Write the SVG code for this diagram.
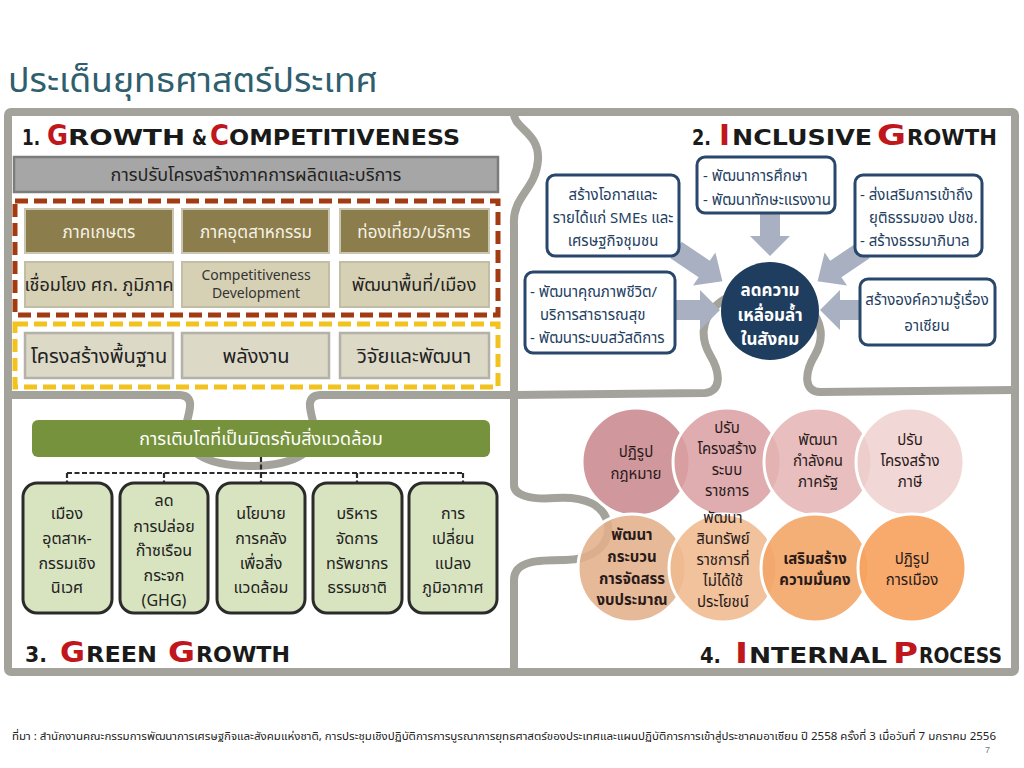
<svg xmlns="http://www.w3.org/2000/svg" xmlns:xlink="http://www.w3.org/1999/xlink" width="1024" height="768" viewBox="0 0 1024 768">
<defs>
<style>
.th{font-family:"Noto Sans Thai","Noto Sans","DejaVu Sans",sans-serif;}
.hd{font-family:"DejaVu Sans","Liberation Sans",sans-serif;font-weight:bold;fill:#1a1a1a;}
.red{fill:#c0171c;}
.frame{fill:none;stroke:#a3a29b;stroke-width:8;stroke-linecap:round;stroke-linejoin:round;}
.olive{fill:#8b7d4c;stroke:#c9c5b0;stroke-width:2;}
.khaki{fill:#d6d1b4;stroke:#c2bea6;stroke-width:2;}
.light{fill:#dcd9c7;stroke:#b3b1a8;stroke-width:2.5;}
.t18w{font-size:17px;fill:#f6f2e4;text-anchor:middle;}
.t18d{font-size:18px;fill:#222;text-anchor:middle;}
.t20d{font-size:20px;fill:#222;text-anchor:middle;}
.nbox{fill:#fff;stroke:#29476a;stroke-width:3;}
.nt{font-size:15px;fill:#24405f;}
.gbox{fill:#d8e4bf;stroke:#2b2b2b;stroke-width:3;}
.gt{font-size:16px;fill:#222;text-anchor:middle;}
.ct{font-size:15px;fill:#2a1a1a;text-anchor:middle;}
.ctb{font-size:15px;fill:#2a1a1a;text-anchor:middle;font-weight:bold;}
.circ{stroke:#fff;stroke-width:3;}
.barrow{fill:#a8b0c1;}
.dash{fill:none;stroke:#2b2b2b;stroke-width:2.2;stroke-dasharray:5 2.5;}
</style>
<path id="ar48" d="M0,-10 H28 V-20 L48,0 L28,20 V10 H0 Z"/>
<path id="ar56" d="M0,-10 H34 V-20 L56,0 L34,20 V10 H0 Z"/>
</defs>

<rect x="0" y="0" width="1024" height="768" fill="#fff"/>

<!-- title -->
<text x="8" y="92" class="th" font-size="34" fill="#2f5f6f" textLength="370" lengthAdjust="spacingAndGlyphs">ประเด็นยุทธศาสตร์ประเทศ</text>

<!-- puzzle frame background -->
<g id="frame">
<rect x="8" y="112" width="1007" height="560" rx="3" class="frame" stroke-width="9"/>
<path class="frame" d="M514,112 C512,128 540,132 538,160 C536,190 512,196 514,225 L514,395"/>
<path class="frame" d="M8,395 L180,395 C195,396 190,410 186,425 C180,450 205,466 250,466 C295,466 322,450 314,425 C310,410 305,396 320,395 L514,395"/>
<path class="frame" d="M514,395 L705,393 C720,392 722,375 710,355 C690,320 720,290 760,290 C800,290 835,320 815,355 C803,375 805,392 820,392 L1015,390"/>
<path class="frame" d="M514,395 L514,485 C514,495 530,500 555,498 C585,496 605,505 608,525 C610,548 590,560 565,560 C540,560 514,560 514,580 L514,672"/>
</g>

<!-- Quadrant 1 -->
<g id="q1-heading">
<text y="145" class="hd"><tspan x="22" font-size="21" textLength="18" lengthAdjust="spacingAndGlyphs">1.</tspan> <tspan x="47" font-size="29" class="red" textLength="21" lengthAdjust="spacingAndGlyphs">G</tspan><tspan x="68" font-size="21" textLength="117" lengthAdjust="spacingAndGlyphs">ROWTH</tspan> <tspan x="192" font-size="21" textLength="15" lengthAdjust="spacingAndGlyphs">&amp;</tspan> <tspan x="210" font-size="29" class="red" textLength="19" lengthAdjust="spacingAndGlyphs">C</tspan><tspan x="229" font-size="21" textLength="231" lengthAdjust="spacingAndGlyphs">OMPETITIVENESS</tspan></text>
</g>

<g id="q1-bar">
<rect x="14" y="157" width="484" height="35" fill="#a6a6a6" stroke="#7c7c7c" stroke-width="2.5"/>
<text x="256" y="181" class="th t18d">การปรับโครงสร้างภาคการผลิตและบริการ</text>
</g>

<g id="q1-group-red">
<rect x="15" y="201" width="483" height="114" fill="none" stroke="#a23a12" stroke-width="5" stroke-dasharray="13 6"/>
</g>
<g id="q1-group-yellow">
<rect x="15" y="324" width="483" height="63" fill="none" stroke="#f2c21e" stroke-width="5" stroke-dasharray="13 6"/>
</g>

<g id="n-agri"><rect x="25" y="209" width="148" height="44" class="olive"/><text x="99" y="238" class="th t18w">ภาคเกษตร</text></g>
<g id="n-industry"><rect x="182" y="209" width="147" height="44" class="olive"/><text x="256" y="238" class="th t18w">ภาคอุตสาหกรรม</text></g>
<g id="n-tourism"><rect x="340" y="209" width="149" height="44" class="olive"/><text x="414" y="238" class="th t18w">ท่องเที่ยว/บริการ</text></g>

<g id="n-regional"><rect x="25" y="262" width="148" height="45" class="khaki"/><text x="99" y="291" class="th t18d" font-size="15.5">เชื่อมโยง ศก. ภูมิภาค</text></g>
<g id="n-compdev"><rect x="182" y="262" width="147" height="45" class="khaki"/><text x="256" y="280" font-family="Noto Sans, DejaVu Sans, sans-serif" font-size="14" fill="#333" text-anchor="middle"><tspan x="256">Competitiveness</tspan><tspan x="256" dy="18">Development</tspan></text></g>
<g id="n-area"><rect x="340" y="262" width="149" height="45" class="khaki"/><text x="414" y="291" class="th t18d" font-size="17">พัฒนาพื้นที่/เมือง</text></g>

<g id="n-infra"><rect x="25" y="333" width="148" height="45" class="light"/><text x="99" y="363" class="th t20d" font-size="19">โครงสร้างพื้นฐาน</text></g>
<g id="n-energy"><rect x="182" y="333" width="147" height="45" class="light"/><text x="256" y="363" class="th t20d">พลังงาน</text></g>
<g id="n-rnd"><rect x="340" y="333" width="149" height="45" class="light"/><text x="414" y="363" class="th t20d">วิจัยและพัฒนา</text></g>

<!-- Quadrant 2 -->
<g id="q2-heading">
<text y="145" class="hd"><tspan x="692" font-size="21" textLength="19" lengthAdjust="spacingAndGlyphs">2.</tspan> <tspan x="719" font-size="29" class="red" textLength="11" lengthAdjust="spacingAndGlyphs">I</tspan><tspan x="732" font-size="21" textLength="140" lengthAdjust="spacingAndGlyphs">NCLUSIVE</tspan> <tspan x="877" font-size="29" class="red" textLength="29" lengthAdjust="spacingAndGlyphs">G</tspan><tspan x="907" font-size="21" textLength="90" lengthAdjust="spacingAndGlyphs">ROWTH</tspan></text>
</g>

<g id="connectors">
<use xlink:href="#ar48" href="#ar48" class="barrow" transform="translate(770,208) rotate(90)"/>
<use xlink:href="#ar56" href="#ar56" class="barrow" transform="translate(676,250) rotate(34)"/>
<use xlink:href="#ar56" href="#ar56" class="barrow" transform="translate(864,250) rotate(146)"/>
<use xlink:href="#ar48" href="#ar48" class="barrow" transform="translate(672,310)"/>
<use xlink:href="#ar48" href="#ar48" class="barrow" transform="translate(868,310) rotate(180)"/>
<path class="dash" d="M261,457 V473 M67,473 H463 M67,473 V483 M164,473 V483 M261,473 V483 M357,473 V483 M463,473 V483"/>
</g>

<g id="n-sme"><rect x="547" y="175" width="132" height="81" rx="8" class="nbox"/><text class="th nt" text-anchor="middle"><tspan x="613" y="200">สร้างโอกาสและ</tspan><tspan x="613" y="223">รายได้แก่ SMEs และ</tspan><tspan x="613" y="246">เศรษฐกิจชุมชน</tspan></text></g>
<g id="n-edu"><rect x="697" y="157" width="138" height="56" rx="8" class="nbox"/><text class="th nt"><tspan x="703" y="181">- พัฒนาการศึกษา</tspan><tspan x="703" y="205">- พัฒนาทักษะแรงงาน</tspan></text></g>
<g id="n-justice"><rect x="855" y="175" width="127" height="81" rx="8" class="nbox"/><text class="th nt"><tspan x="860" y="200">- ส่งเสริมการเข้าถึง</tspan><tspan x="869" y="223">ยุติธรรมของ ปชช.</tspan><tspan x="860" y="246">- สร้างธรรมาภิบาล</tspan></text></g>
<g id="n-quality"><rect x="525" y="272" width="150" height="81" rx="8" class="nbox"/><text class="th nt"><tspan x="530" y="297">- พัฒนาคุณภาพชีวิต/</tspan><tspan x="540" y="320">บริการสาธารณสุข</tspan><tspan x="530" y="343">- พัฒนาระบบสวัสดิการ</tspan></text></g>
<g id="n-asean"><rect x="860" y="279" width="135" height="66" rx="8" class="nbox"/><text class="th nt" text-anchor="middle"><tspan x="927" y="305">สร้างองค์ความรู้เรื่อง</tspan><tspan x="927" y="331">อาเซียน</tspan></text></g>
<g id="n-center"><circle cx="770" cy="311" r="49" fill="#1f3d5e"/><text class="th" font-size="17" font-weight="bold" fill="#fff" text-anchor="middle"><tspan x="770" y="296">ลดความ</tspan><tspan x="770" y="321">เหลื่อมล้ำ</tspan><tspan x="770" y="345">ในสังคม</tspan></text></g>

<!-- Quadrant 3 -->
<g id="n-green"><rect x="32" y="420" width="458" height="37" rx="6" fill="#76923c"/><text x="261" y="445" class="th" font-size="18" fill="#fff" text-anchor="middle">การเติบโตที่เป็นมิตรกับสิ่งแวดล้อม</text></g>

<g id="n-eco"><rect x="23" y="483" width="89" height="130" rx="14" class="gbox"/><text class="th gt"><tspan x="67" y="519">เมือง</tspan><tspan x="67" y="544">อุตสาห-</tspan><tspan x="67" y="569">กรรมเชิง</tspan><tspan x="67" y="593">นิเวศ</tspan></text></g>
<g id="n-ghg"><rect x="120" y="483" width="88" height="130" rx="14" class="gbox"/><text class="th gt"><tspan x="164" y="506">ลด</tspan><tspan x="164" y="532">การปล่อย</tspan><tspan x="164" y="556">ก๊าซเรือน</tspan><tspan x="164" y="581">กระจก</tspan><tspan x="164" y="606">(GHG)</tspan></text></g>
<g id="n-fiscal"><rect x="217" y="483" width="88" height="130" rx="14" class="gbox"/><text class="th gt"><tspan x="261" y="519">นโยบาย</tspan><tspan x="261" y="544">การคลัง</tspan><tspan x="261" y="569">เพื่อสิ่ง</tspan><tspan x="261" y="593">แวดล้อม</tspan></text></g>
<g id="n-resource"><rect x="313" y="483" width="89" height="130" rx="14" class="gbox"/><text class="th gt"><tspan x="357" y="519">บริหาร</tspan><tspan x="357" y="544">จัดการ</tspan><tspan x="357" y="569">ทรัพยากร</tspan><tspan x="357" y="593">ธรรมชาติ</tspan></text></g>
<g id="n-climate"><rect x="409" y="483" width="88" height="130" rx="14" class="gbox"/><text class="th gt"><tspan x="453" y="519">การ</tspan><tspan x="453" y="544">เปลี่ยน</tspan><tspan x="453" y="569">แปลง</tspan><tspan x="453" y="593">ภูมิอากาศ</tspan></text></g>

<g id="q3-heading">
<text y="662" class="hd"><tspan x="25" font-size="21" textLength="22" lengthAdjust="spacingAndGlyphs">3.</tspan> <tspan x="60" font-size="29" class="red" textLength="25" lengthAdjust="spacingAndGlyphs">G</tspan><tspan x="86" font-size="21" textLength="71" lengthAdjust="spacingAndGlyphs">REEN</tspan> <tspan x="168" font-size="29" class="red" textLength="27" lengthAdjust="spacingAndGlyphs">G</tspan><tspan x="196" font-size="21" textLength="94" lengthAdjust="spacingAndGlyphs">ROWTH</tspan></text>
</g>

<!-- Quadrant 4 -->
<g id="n-law"><circle cx="636" cy="462" r="54" class="circ" fill="#c98a8e" fill-opacity="0.88"/><text class="th ct"><tspan x="636" y="457">ปฏิรูป</tspan><tspan x="636" y="479">กฎหมาย</tspan></text></g>
<g id="n-bureau"><circle cx="727" cy="462" r="54" class="circ" fill="#d99fa1" fill-opacity="0.85"/><text class="th ct"><tspan x="727" y="433">ปรับ</tspan><tspan x="727" y="454">โครงสร้าง</tspan><tspan x="727" y="475">ระบบ</tspan><tspan x="727" y="496">ราชการ</tspan></text></g>
<g id="n-staff"><circle cx="818" cy="462" r="54" class="circ" fill="#e4b4b3" fill-opacity="0.85"/><text class="th ct"><tspan x="818" y="445">พัฒนา</tspan><tspan x="818" y="466">กำลังคน</tspan><tspan x="818" y="487">ภาครัฐ</tspan></text></g>
<g id="n-tax"><circle cx="910" cy="462" r="54" class="circ" fill="#efd0cf" fill-opacity="0.85"/><text class="th ct"><tspan x="910" y="445">ปรับ</tspan><tspan x="910" y="466">โครงสร้าง</tspan><tspan x="910" y="487">ภาษี</tspan></text></g>

<g id="n-budget"><circle cx="632" cy="568" r="54" class="circ" fill="#e2b18b" fill-opacity="0.88"/><text class="th ctb"><tspan x="632" y="540">พัฒนา</tspan><tspan x="632" y="562">กระบวน</tspan><tspan x="632" y="584">การจัดสรร</tspan><tspan x="632" y="605">งบประมาณ</tspan></text></g>
<g id="n-asset"><circle cx="723" cy="568" r="54" class="circ" fill="#efba8e" fill-opacity="0.88"/><text class="th ct" fill="#4a3a30"><tspan x="723" y="523">พัฒนา</tspan><tspan x="723" y="544">สินทรัพย์</tspan><tspan x="723" y="565">ราชการที่</tspan><tspan x="723" y="586">ไม่ได้ใช้</tspan><tspan x="723" y="607">ประโยชน์</tspan></text></g>
<g id="n-security"><circle cx="815" cy="568" r="54" class="circ" fill="#f3a668" fill-opacity="0.9"/><text class="th ctb"><tspan x="815" y="564">เสริมสร้าง</tspan><tspan x="815" y="585">ความมั่นคง</tspan></text></g>
<g id="n-politics"><circle cx="912" cy="568" r="54" class="circ" fill="#f6a35e" fill-opacity="0.92"/><text class="th ct"><tspan x="912" y="564">ปฏิรูป</tspan><tspan x="912" y="585">การเมือง</tspan></text></g>

<g id="q4-heading">
<text y="663" class="hd"><tspan x="700" font-size="21" textLength="21" lengthAdjust="spacingAndGlyphs">4.</tspan> <tspan x="735" font-size="29" class="red" textLength="13" lengthAdjust="spacingAndGlyphs">I</tspan><tspan x="749" font-size="21" textLength="138" lengthAdjust="spacingAndGlyphs">NTERNAL</tspan> <tspan x="893" font-size="29" class="red" textLength="25" lengthAdjust="spacingAndGlyphs">P</tspan><tspan x="919" font-size="21" textLength="83" lengthAdjust="spacingAndGlyphs">ROCESS</tspan></text>
</g>

<!-- footer -->
<text x="12" y="740" class="th" font-size="11" fill="#222" textLength="984" lengthAdjust="spacingAndGlyphs">ที่มา : สำนักงานคณะกรรมการพัฒนาการเศรษฐกิจและสังคมแห่งชาติ, การประชุมเชิงปฏิบัติการการบูรณาการยุทธศาสตร์ของประเทศและแผนปฏิบัติการการเข้าสู่ประชาคมอาเซียน ปี 2558 ครั้งที่ 3  เมื่อวันที่ 7 มกราคม 2556</text>
<text x="985" y="753" font-family="Liberation Sans, sans-serif" font-size="9" fill="#777">7</text>
</svg>
